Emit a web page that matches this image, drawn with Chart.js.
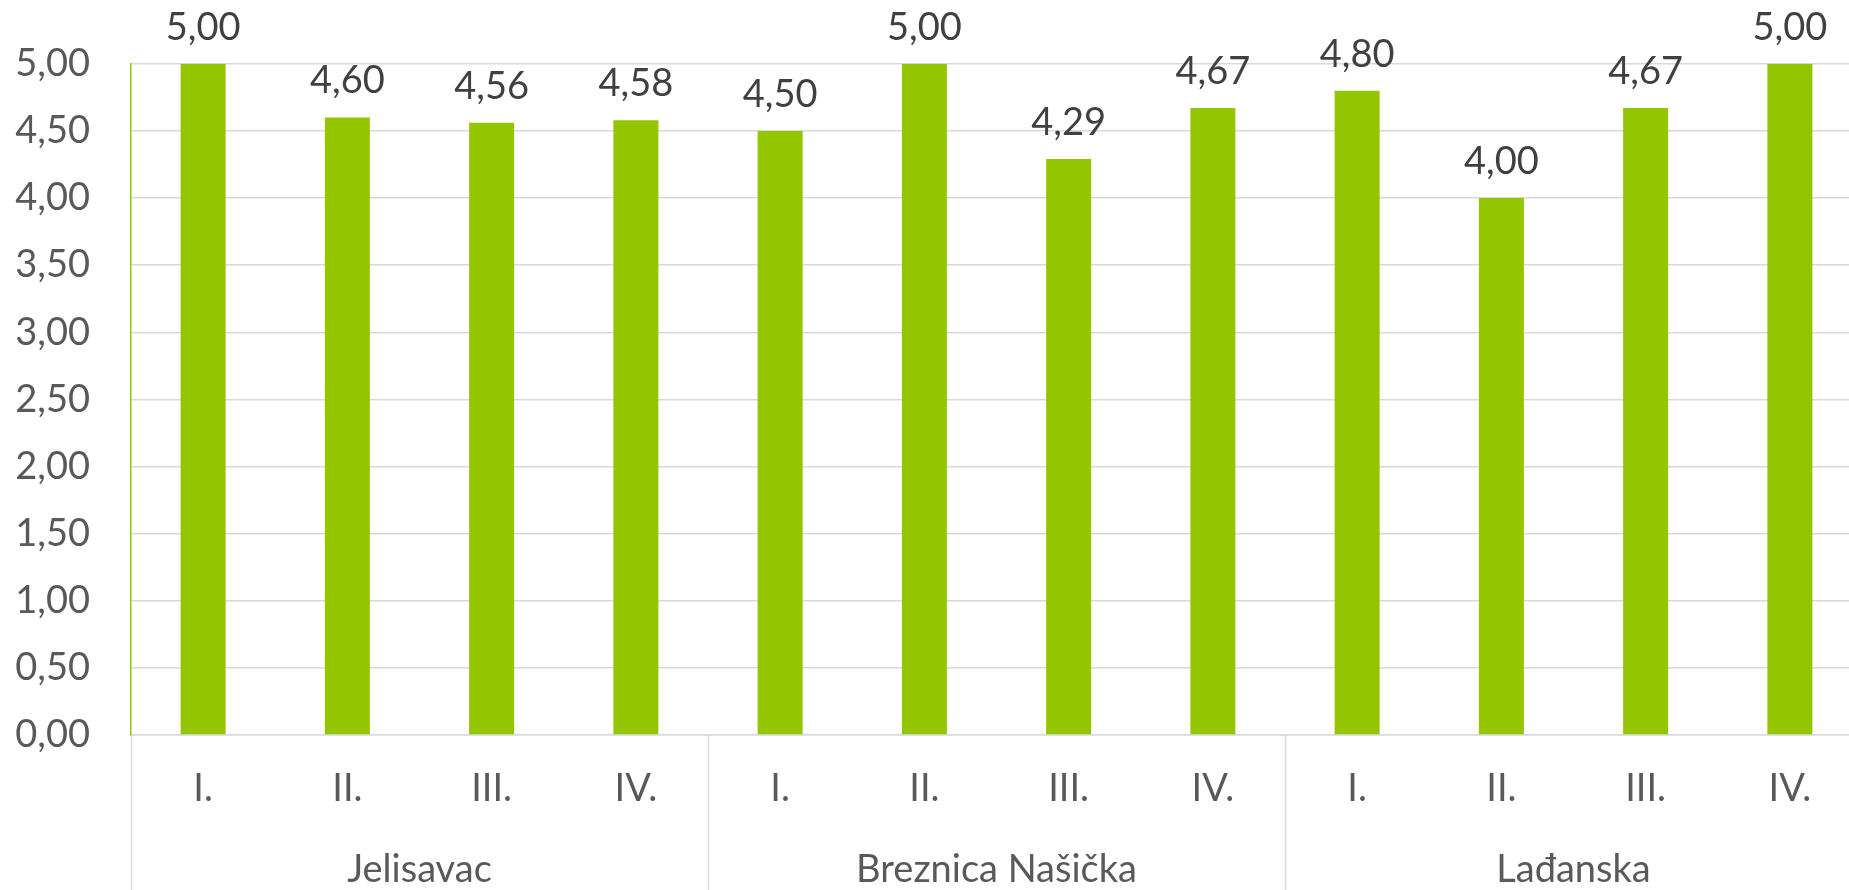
<!DOCTYPE html>
<html>
<head>
<meta charset="utf-8">
<script src="https://cdn.jsdelivr.net/npm/chart.js@4"></script>
<style>
html,body{margin:0;padding:0;background:#fff;overflow:hidden;}
#wrap{width:1862px;height:890px;position:relative;}
</style>
</head>
<body>
<div id="wrap"><canvas id="chart"></canvas></div>
<script>
const groups=["Jelisavac","Breznica Našička","Lađanska"];
const quarters=["I.","II.","III.","IV."];
const jelisavac=[5.00,4.60,4.56,4.58];
const breznica=[4.50,5.00,4.29,4.67];
const ladjanska=[4.80,4.00,4.67,5.00];
const yTicks=[0,0.5,1,1.5,2,2.5,3,3.5,4,4.5,5];

const labels=[];
groups.forEach(()=>quarters.forEach(q=>labels.push(q)));
const values=[...jelisavac,...breznica,...ladjanska];

const fmt=v=>v.toFixed(2).replace(".",",");
const FONT="Lato";

// value labels above bars, group names and separators under the axis
const extras={
    id:"extras",
    afterDatasetsDraw(chart){
        const ctx=chart.ctx;
        const meta=chart.getDatasetMeta(0);
        ctx.save();
        ctx.font="38px "+FONT;
        ctx.fillStyle="#404040";
        ctx.textAlign="center";
        ctx.textBaseline="alphabetic";
        meta.data.forEach((bar,i)=>{
            ctx.fillText(fmt(values[i]),bar.x,bar.y-24);
        });
        ctx.restore();
    },
    afterDraw(chart){
        const ctx=chart.ctx;
        const x=chart.scales.x;
        const area=chart.chartArea;
        const step=(x.right-x.left)/labels.length;
        ctx.save();
        ctx.strokeStyle="#d9d9d9";
        ctx.lineWidth=1.5;
        for(let g=0;g<=groups.length;g++){
            const px=Math.round(x.left+g*quarters.length*step)+0.5;
            ctx.beginPath();
            ctx.moveTo(px,area.bottom);
            ctx.lineTo(px,chart.height);
            ctx.stroke();
        }
        ctx.font="38px "+FONT;
        ctx.fillStyle="#595959";
        ctx.textAlign="center";
        ctx.textBaseline="middle";
        groups.forEach((g,i)=>{
            const cx=x.left+(i+0.5)*quarters.length*step;
            ctx.fillText(g,cx,area.bottom+135);
        });
        ctx.restore();
    }
};

new Chart(document.getElementById("chart"),{
    type:"bar",
    data:{
        labels:labels,
        datasets:[{
            data:values,
            backgroundColor:"#94C600",
            categoryPercentage:1,
            barPercentage:0.312
        }]
    },
    options:{
        responsive:true,
        maintainAspectRatio:false,
        animation:false,
        layout:{padding:{top:60,right:0,bottom:0,left:0}},
        plugins:{legend:{display:false},tooltip:{enabled:false}},
        scales:{
            x:{
                afterFit:s=>{s.height=155;},
                grid:{display:false},
                border:{color:"#d9d9d9",width:1.5},
                ticks:{font:{family:FONT,size:38},color:"#595959",padding:23,maxRotation:0,autoSkip:false}
            },
            y:{
                min:0,max:5,
                afterFit:s=>{s.width=131;},
                afterBuildTicks:s=>{s.ticks=yTicks.map(v=>({value:v}));},
                grid:{color:"#d9d9d9",lineWidth:1.5,drawTicks:false},
                border:{color:"#94C600",width:1.5},
                ticks:{font:{family:FONT,size:38},color:"#595959",padding:41,callback:v=>fmt(v)}
            }
        }
    },
    plugins:[extras]
});
</script>
</body>
</html>
